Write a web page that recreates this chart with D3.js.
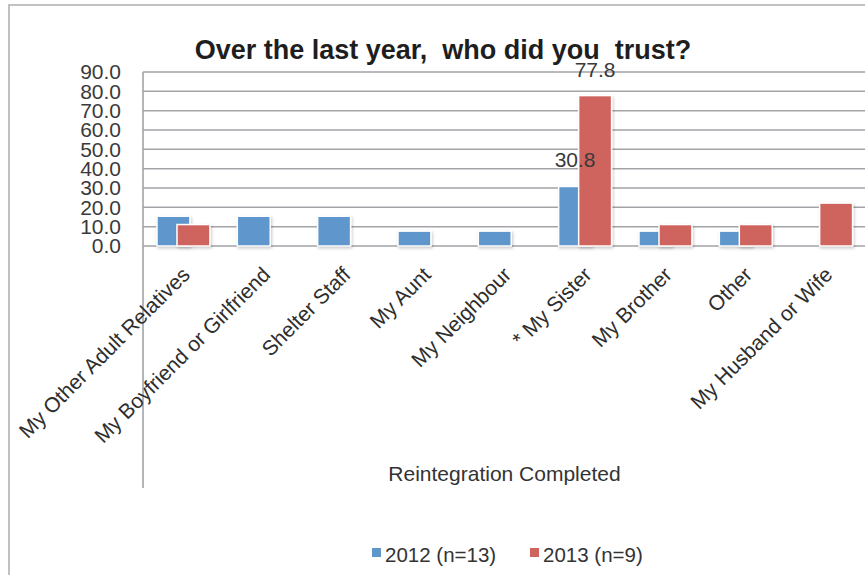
<!DOCTYPE html>
<html>
<head>
<meta charset="utf-8">
<script src="https://cdn.jsdelivr.net/npm/d3@7/dist/d3.min.js"></script>
<style>
  html, body { margin: 0; padding: 0; background: #fff; }
  svg { display: block; font-family: "Liberation Sans", Arial, Helvetica, sans-serif; }
  .title { white-space: pre; }
</style>
</head>
<body>
<svg id="chart" width="865" height="575"></svg>
<script>
// Chart data
const categories = [
  "My Other Adult Relatives",
  "My Boyfriend or Girlfriend",
  "Shelter Staff",
  "My Aunt",
  "My Neighbour",
  "* My Sister",
  "My Brother",
  "Other",
  "My Husband or Wife"
];
const values2012 = [15.4, 15.4, 15.4, 7.7, 7.7, 30.8, 7.7, 7.7, null];
const values2013 = [11.1, null, null, null, null, 77.8, 11.1, 11.1, 22.2];
const seriesNames = ["2012 (n=13)", "2013 (n=9)"];
const labelledCategories = ["* My Sister"];
const yTicks = [0, 10, 20, 30, 40, 50, 60, 70, 80, 90];
const titleText = "Over the last year,  who did you  trust?";
const axisTitle = "Reintegration Completed";

const colors = ["#5f97cc", "#cf635d"];
const svg = d3.select("#chart");

// Outer chart frame
svg.append("rect")
  .attr("x", 9).attr("y", 5)
  .attr("width", 900).attr("height", 620)
  .attr("fill", "none")
  .attr("stroke", "#b2b2b6")
  .attr("stroke-width", 1.6);

const plot = { left: 143, right: 866, top: 72, bottom: 246 };

const x = d3.scaleBand().domain(categories).range([plot.left, plot.right]).padding(0);
const y = d3.scaleLinear().domain([0, 90]).range([plot.bottom, plot.top]);

// Soft shadow for bars
const defs = svg.append("defs");
const f = defs.append("filter").attr("id", "barShadow")
  .attr("x", "-30%").attr("y", "-30%").attr("width", "160%").attr("height", "160%");
f.append("feDropShadow").attr("dx", 1).attr("dy", 1.5)
  .attr("stdDeviation", 1.6).attr("flood-color", "#000").attr("flood-opacity", 0.22);

// Gridlines
svg.append("g").selectAll("line").data(yTicks).join("line")
  .attr("x1", plot.left).attr("x2", 865)
  .attr("y1", d => y(d)).attr("y2", d => y(d))
  .attr("stroke", "#a3a3a8").attr("stroke-width", 1.5);

// Y axis labels
const yAxis = d3.axisLeft(y).tickValues(yTicks).tickFormat(d3.format(".1f")).tickSize(0).tickPadding(22);
const yg = svg.append("g").attr("transform", `translate(${plot.left},0)`).call(yAxis);
yg.select(".domain").remove();
yg.selectAll("text")
  .attr("font-size", 21)
  .attr("font-family", "Liberation Sans, Arial, sans-serif")
  .attr("fill", "#3a3a3a");

// Vertical axis line extending down through the category area
svg.append("line")
  .attr("x1", plot.left).attr("x2", plot.left)
  .attr("y1", plot.top).attr("y2", 488)
  .attr("stroke", "#a3a3a8").attr("stroke-width", 1.6);

// Bars
const bw = x.bandwidth();
const barW = bw * 0.41;
const offsets = [bw * 0.174, bw * 0.423];
const series = [values2012, values2013];

series.forEach((vals, si) => {
  const data = categories.map((c, i) => ({ c, v: vals[i] })).filter(d => d.v != null);
  svg.append("g").selectAll("rect").data(data).join("rect")
    .attr("x", d => x(d.c) + offsets[si])
    .attr("y", d => y(d.v))
    .attr("width", barW)
    .attr("height", d => y(0) - y(d.v))
    .attr("fill", colors[si])
    .attr("stroke", "#fff")
    .attr("stroke-width", 1.5)
    .attr("filter", "url(#barShadow)");
});

// Data labels
series.forEach((vals, si) => {
  const data = categories.map((c, i) => ({ c, v: vals[i] }))
    .filter(d => d.v != null && labelledCategories.includes(d.c));
  svg.append("g").selectAll("text").data(data).join("text")
    .attr("x", d => x(d.c) + offsets[si] + barW / 2)
    .attr("y", d => y(d.v) - 19)
    .attr("text-anchor", "middle")
    .attr("font-size", 21)
    .attr("fill", "#3a3a3a")
    .text(d => d.v.toFixed(1));
});

// Category labels, rotated
svg.append("g").selectAll("text").data(categories).join("text")
  .attr("transform", d => `translate(${x(d) + bw / 2 + 8},276) rotate(-45)`)
  .attr("text-anchor", "end")
  .attr("font-size", 21)
  .attr("fill", "#2e2e2e")
  .text(d => d);

// Axis group title
svg.append("text")
  .attr("x", (plot.left + plot.right) / 2)
  .attr("y", 481)
  .attr("text-anchor", "middle")
  .attr("font-size", 21)
  .attr("fill", "#333")
  .text(axisTitle);

// Chart title
svg.append("text")
  .attr("class", "title")
  .attr("x", 443).attr("y", 59)
  .attr("text-anchor", "middle")
  .attr("font-size", 27)
  .attr("font-weight", "bold")
  .attr("fill", "#1e1e1e")
  .text(titleText);

// Legend
const legendX = [372, 530];
const legend = svg.append("g");
seriesNames.forEach((name, i) => {
  legend.append("rect")
    .attr("x", legendX[i]).attr("y", 548)
    .attr("width", 9).attr("height", 9)
    .attr("fill", colors[i]);
  legend.append("text")
    .attr("x", legendX[i] + 13).attr("y", 562)
    .attr("font-size", 20.5)
    .attr("fill", "#333")
    .text(name);
});
</script>
</body>
</html>
